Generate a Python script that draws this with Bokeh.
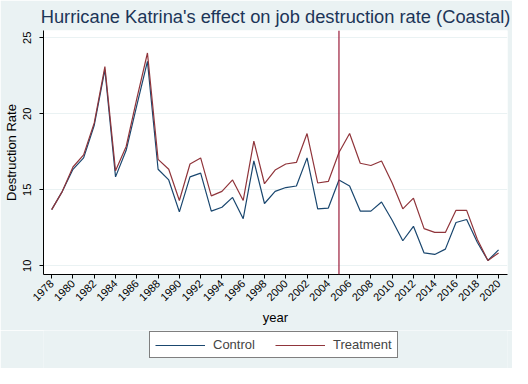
from math import pi
from bokeh.plotting import figure
from bokeh.layouts import column
from bokeh.models import Range1d, FixedTicker, Span, Legend, LegendItem
from bokeh.embed import file_html
from bokeh.resources import INLINE

years = [1978, 1979, 1980, 1981, 1982, 1983, 1984, 1985, 1986, 1987, 1988, 1989,
         1990, 1991, 1992, 1993, 1994, 1995, 1996, 1997, 1998, 1999, 2000,
         2001, 2002, 2003, 2004, 2005, 2006, 2007, 2008, 2009, 2010, 2011, 2012,
         2013, 2014, 2015, 2016, 2017, 2018, 2019, 2020]

control = [13.7, 14.9, 16.35, 17.1, 19.25, 22.9, 15.85, 17.6, 20.55, 23.45, 16.35, 15.65,
           13.55, 15.85, 16.1, 13.6, 13.85, 14.5, 13.1, 16.9, 14.1, 14.9, 15.15,
           15.25, 17.1, 13.75, 13.8, 15.65, 15.25, 13.6, 13.6, 14.2, 13.0, 11.65, 12.6,
           10.85, 10.75, 11.1, 12.85, 13.05, 11.55, 10.35, 11.05]

treatment = [13.7, 14.9, 16.5, 17.3, 19.4, 23.1, 16.25, 17.85, 21.0, 24.0, 17.0, 16.35,
             14.3, 16.7, 17.1, 14.6, 14.9, 15.65, 14.3, 18.2, 15.4, 16.3, 16.7,
             16.8, 18.7, 15.45, 15.55, 17.45, 18.7, 16.75, 16.6, 16.9, 15.45, 13.75, 14.45,
             12.45, 12.2, 12.2, 13.65, 13.65, 11.75, 10.35, 10.85]

x_ticks = [1978, 1980, 1982, 1984, 1986, 1988, 1990, 1992, 1994, 1996, 1998, 2000,
           2002, 2004, 2006, 2008, 2010, 2012, 2014, 2016, 2018, 2020]
y_ticks = [10, 15, 20, 25]
event_year = 2005

series_names = ["Control", "Treatment"]
series_colors = ["#1a476f", "#90353b"]
title_text = "Hurricane Katrina's effect on job destruction rate (Coastal)"

BG = "#EAF2F3"
FONT = "Liberation Sans"

p = figure(width=512, height=330, output_backend="svg", toolbar_location=None,
           x_range=Range1d(1977.23, 2020.84), y_range=Range1d(9.43, 25.48),
           min_border_left=41, min_border_right=5, min_border_top=29, min_border_bottom=56)

p.title.text = title_text
p.title.align = "center"
p.title.text_font = FONT
p.title.text_font_size = "18.3px"
p.title.text_font_style = "normal"
p.title.text_color = "#1c3558"
p.title.standoff = 7

p.background_fill_color = "white"
p.border_fill_color = BG
p.outline_line_color = None

p.xgrid.grid_line_color = None
p.ygrid.grid_line_color = BG
p.ygrid.grid_line_width = 1

p.xaxis.ticker = FixedTicker(ticks=x_ticks)
p.yaxis.ticker = FixedTicker(ticks=y_ticks)
for ax in (p.xaxis, p.yaxis):
    ax.axis_line_color = "black"
    ax.major_tick_line_color = "black"
    ax.minor_tick_line_color = None
    ax.major_tick_out = 4
    ax.major_tick_in = 0
    ax.major_label_text_font = FONT
    ax.major_label_text_font_size = "11px"
    ax.major_label_text_color = "black"
    ax.axis_label_text_font = FONT
    ax.axis_label_text_font_size = "13px"
    ax.axis_label_text_font_style = "normal"
    ax.axis_label_text_color = "black"

p.xaxis.major_label_orientation = pi / 4
p.xaxis.major_label_standoff = 3
p.xaxis.axis_label = "year"
p.xaxis.axis_label_standoff = 3

p.yaxis.major_label_orientation = "vertical"
p.yaxis.major_label_standoff = 8
p.yaxis.axis_label = "Destruction Rate"
p.yaxis.axis_label_standoff = 2

p.line(years, control, line_color=series_colors[0], line_width=1.2)
p.line(years, treatment, line_color=series_colors[1], line_width=1.2)

p.add_layout(Span(location=event_year, dimension="height", line_color="#9b1b3a", line_width=1.2))

# legend strip below the chart
lg = figure(width=512, height=38, output_backend="svg", toolbar_location=None,
            x_range=Range1d(0, 1), y_range=Range1d(0, 1),
            min_border_left=0, min_border_right=0, min_border_top=0, min_border_bottom=0)
lg.xaxis.visible = False
lg.yaxis.visible = False
lg.xgrid.visible = False
lg.ygrid.visible = False
lg.outline_line_color = None
lg.background_fill_color = BG
lg.border_fill_color = BG

# the same series, outside the strip's range, only to key the legend
l1 = lg.line(years, control, line_color=series_colors[0], line_width=1.2)
l2 = lg.line(years, treatment, line_color=series_colors[1], line_width=1.2)

legend = Legend(items=[LegendItem(label=series_names[0], renderers=[l1]),
                       LegendItem(label=series_names[1], renderers=[l2])],
                location=(106, 10), orientation="horizontal",
                border_line_color="black", border_line_width=1,
                background_fill_color="white", background_fill_alpha=1.0,
                label_text_font=FONT, label_text_font_size="13px",
                glyph_width=50, glyph_height=14, label_height=14,
                label_standoff=8, spacing=20, padding=5, margin=0)
lg.add_layout(legend, "center")

open("out.html", "w").write(file_html(column(p, lg, spacing=0), INLINE))
